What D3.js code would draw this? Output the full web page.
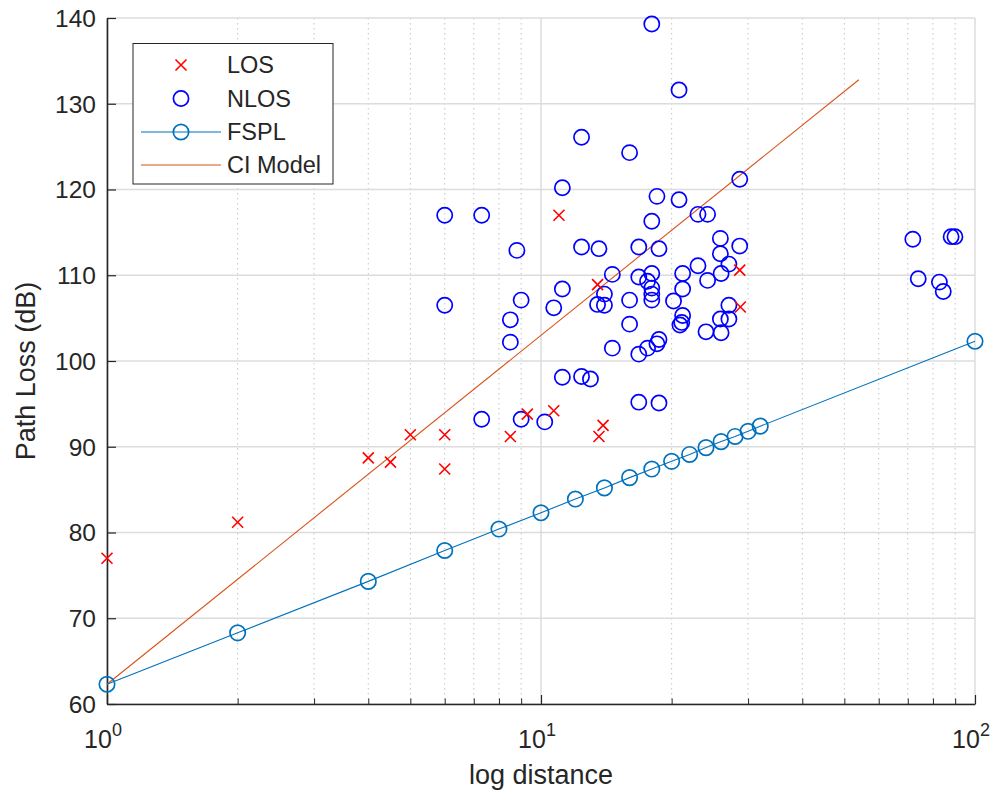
<!DOCTYPE html>
<html>
<head>
<meta charset="utf-8">
<script src="https://cdn.jsdelivr.net/npm/d3@7"></script>
<style>
  html, body { margin: 0; padding: 0; background: #fff; }
  svg { display: block; font-family: "Liberation Sans", Arial, Helvetica, sans-serif; }
</style>
</head>
<body>
<svg id="chart" width="1000" height="794"></svg>
<script>
// ---- data ----
const losDist = [1, 2, 4, 4.5, 5, 6, 6, 8.5, 9.3, 10.7, 11.0, 13.5, 13.6, 13.9, 28.7, 28.8];
const losPL   = [77.0, 81.2, 88.7, 88.2, 91.4, 91.4, 87.4, 91.2, 93.8, 94.2, 117.0, 108.9, 91.2, 92.5, 110.6, 106.3];

const nlosDist = [6.0, 7.3, 6.0, 8.8, 9.0, 8.5, 8.5, 7.3, 9.0, 10.2,
                  10.7, 11.2, 12.4, 13.0, 11.2, 11.2, 12.4, 12.4, 13.6, 13.5,
                  14.0, 14.0, 14.6, 14.6, 16.0, 16.0, 16.0, 16.8, 16.8, 16.8,
                  16.8, 17.6, 17.6, 18.0, 18.0, 18.0, 18.0, 18.0, 18.0, 18.5,
                  18.5, 18.7, 18.7, 18.7, 20.8, 20.8, 20.2, 21.2, 21.2, 21.2,
                  21.1, 20.9, 23.0, 24.2, 23.0, 24.2, 24.0, 25.9, 25.9, 26.0,
                  25.9, 26.0, 27.1, 27.1, 27.1, 28.7, 28.7, 71.9, 88.1, 89.9,
                  74.0, 82.8, 84.5];
const nlosPL   = [117.0, 117.0, 106.5, 112.9, 107.1, 104.8, 102.2, 93.2, 93.2, 92.9,
                  106.2, 98.1, 98.2, 97.9, 108.4, 120.2, 126.1, 113.3, 113.1, 106.6,
                  106.5, 107.8, 110.1, 101.5, 124.3, 107.1, 104.3, 113.3, 109.8, 100.8,
                  95.2, 109.3, 101.5, 139.3, 116.3, 110.2, 108.5, 107.8, 107.1, 119.2,
                  102.0, 113.1, 102.5, 95.1, 131.6, 118.8, 107.0, 110.2, 108.4, 105.3,
                  104.5, 104.2, 117.1, 117.1, 111.1, 109.4, 103.4, 114.3, 112.5, 110.2,
                  104.9, 103.3, 111.3, 106.5, 104.9, 121.2, 113.4, 114.2, 114.5, 114.5,
                  109.6, 109.2, 108.1];

const fsplDist = [1, 2, 4, 6, 8, 10, 12, 14, 16, 18, 20, 22, 24, 26, 28, 30, 32, 100];
const fsplPL   = [62.3, 68.3, 74.3, 77.9, 80.4, 82.3, 83.9, 85.2, 86.4, 87.4, 88.3, 89.1, 89.9, 90.6, 91.2, 91.8, 92.4, 102.3];

const ciDist = [1, 54];
const ciPL   = [62.3, 132.8];

const yTicks = [60, 70, 80, 90, 100, 110, 120, 130, 140];
const xTickExps = [0, 1, 2];
const legendLabels = ["LOS", "NLOS", "FSPL", "CI Model"];

// ---- layout ----
const svg = d3.select("#chart");
const L = 107, R = 975, T = 18, B = 704;
const x = d3.scaleLog().domain([1, 100]).range([L, R]);
const y = d3.scaleLinear().domain([60, 140]).range([B, T]);
const axisColor = "#262626";

// grid
const g = svg.append("g");
const minorX = [];
[1, 10].forEach(dec => { for (let k = 2; k <= 9; k++) minorX.push(dec * k); });
g.selectAll("line.minor").data(minorX).enter().append("line")
  .attr("x1", d => x(d)).attr("x2", d => x(d)).attr("y1", T).attr("y2", B)
  .attr("stroke", "#c4c4c4").attr("stroke-width", 1).attr("stroke-dasharray", "1.5,3.5");
g.selectAll("line.majx").data(xTickExps.map(e => Math.pow(10, e))).enter().append("line")
  .attr("x1", d => x(d)).attr("x2", d => x(d)).attr("y1", T).attr("y2", B)
  .attr("stroke", "#dcdcdc").attr("stroke-width", 1.5);
g.selectAll("line.majy").data(yTicks).enter().append("line")
  .attr("x1", L).attr("x2", R).attr("y1", d => y(d)).attr("y2", d => y(d))
  .attr("stroke", "#dcdcdc").attr("stroke-width", 1.5);

// axes
const yAxis = d3.axisLeft(y).tickValues(yTicks).tickSizeInner(-9).tickSizeOuter(0).tickPadding(11).tickFormat(d3.format("d"));
const ya = svg.append("g").attr("transform", `translate(${L},0)`).call(yAxis);
ya.select(".domain").attr("stroke", axisColor).attr("stroke-width", 1.6);
ya.selectAll(".tick line").attr("stroke", axisColor).attr("stroke-width", 1.2);
ya.selectAll(".tick text").attr("fill", axisColor).attr("font-size", 24.5).attr("font-family", "Liberation Sans, Arial, sans-serif").attr("dy", "0.34em");

const xMajor = xTickExps.map(e => Math.pow(10, e));
const xAxisMinor = d3.axisBottom(x).tickValues(minorX).tickSizeInner(-5.5).tickSizeOuter(0).tickFormat("");
const xam = svg.append("g").attr("transform", `translate(0,${B})`).call(xAxisMinor);
xam.select(".domain").remove();
xam.selectAll(".tick line").attr("stroke", axisColor).attr("stroke-width", 1);
const xAxis = d3.axisBottom(x).tickValues(xMajor).tickSizeInner(-9).tickSizeOuter(0).tickFormat("");
const xa = svg.append("g").attr("transform", `translate(0,${B})`).call(xAxis);
xa.select(".domain").attr("stroke", axisColor).attr("stroke-width", 1.6);
xa.selectAll(".tick line").attr("stroke", axisColor).attr("stroke-width", 1.2);

// x tick labels 10^n
xTickExps.forEach(e => {
  const t = svg.append("text").attr("x", x(Math.pow(10, e)) - 4).attr("y", 748)
    .attr("text-anchor", "middle").attr("fill", axisColor).attr("font-size", 25);
  t.append("tspan").text("10");
  t.append("tspan").attr("dy", -12).attr("font-size", 18).text(String(e));
});

// axis titles
svg.append("text").attr("x", (L + R) / 2).attr("y", 784).attr("text-anchor", "middle")
  .attr("fill", axisColor).attr("font-size", 27).text("log distance");
svg.append("text").attr("transform", `translate(35,${(T + B) / 2 + 10}) rotate(-90)`)
  .attr("text-anchor", "middle").attr("fill", axisColor).attr("font-size", 27).text("Path Loss (dB)");

const plot = svg.append("g");

// CI model line
const lineGen = d3.line().x(d => x(d[0])).y(d => y(d[1]));
plot.append("path").datum(ciDist.map((d, i) => [d, ciPL[i]]))
  .attr("d", lineGen).attr("fill", "none").attr("stroke", "#D95319").attr("stroke-width", 1.1);

// FSPL
const fspl = fsplDist.map((d, i) => [d, fsplPL[i]]);
plot.append("path").datum(fspl).attr("d", lineGen).attr("fill", "none")
  .attr("stroke", "#0072BD").attr("stroke-width", 1.1);
plot.selectAll("circle.fspl").data(fspl).enter().append("circle")
  .attr("cx", d => x(d[0])).attr("cy", d => y(d[1])).attr("r", 7.7)
  .attr("fill", "none").attr("stroke", "#0072BD").attr("stroke-width", 1.7);

// NLOS
plot.selectAll("circle.nlos").data(nlosDist.map((d, i) => [d, nlosPL[i]])).enter().append("circle")
  .attr("cx", d => x(d[0])).attr("cy", d => y(d[1])).attr("r", 7.6)
  .attr("fill", "none").attr("stroke", "#0000FF").attr("stroke-width", 1.7);

// LOS crosses
const s = 5.5;
const crossPath = `M${-s},${-s}L${s},${s}M${-s},${s}L${s},${-s}`;
plot.selectAll("path.los").data(losDist.map((d, i) => [d, losPL[i]])).enter().append("path")
  .attr("transform", d => `translate(${x(d[0])},${y(d[1])})`).attr("d", crossPath)
  .attr("fill", "none").attr("stroke", "#FF0000").attr("stroke-width", 1.6);

// legend
const lg = svg.append("g");
lg.append("rect").attr("x", 133).attr("y", 43.5).attr("width", 200).attr("height", 140.5)
  .attr("fill", "#fff").attr("stroke", axisColor).attr("stroke-width", 1);
const rowsY = [65, 98.5, 132, 165];
const mx = 181;
lg.append("path").attr("transform", `translate(${mx},${rowsY[0]})`).attr("d", crossPath)
  .attr("stroke", "#FF0000").attr("stroke-width", 1.6).attr("fill", "none");
lg.append("circle").attr("cx", mx).attr("cy", rowsY[1]).attr("r", 7.6)
  .attr("fill", "none").attr("stroke", "#0000FF").attr("stroke-width", 1.7);
lg.append("line").attr("x1", 141).attr("x2", 221).attr("y1", rowsY[2]).attr("y2", rowsY[2])
  .attr("stroke", "#0072BD").attr("stroke-width", 1.1);
lg.append("circle").attr("cx", mx).attr("cy", rowsY[2]).attr("r", 7.7)
  .attr("fill", "none").attr("stroke", "#0072BD").attr("stroke-width", 1.7);
lg.append("line").attr("x1", 141).attr("x2", 221).attr("y1", rowsY[3]).attr("y2", rowsY[3])
  .attr("stroke", "#D95319").attr("stroke-width", 1.1);
lg.selectAll("text.leg").data(legendLabels).enter().append("text")
  .attr("x", 227).attr("y", (d, i) => rowsY[i]).attr("dy", "0.36em")
  .attr("fill", axisColor).attr("font-size", 23.5).text(d => d);
</script>
</body>
</html>
